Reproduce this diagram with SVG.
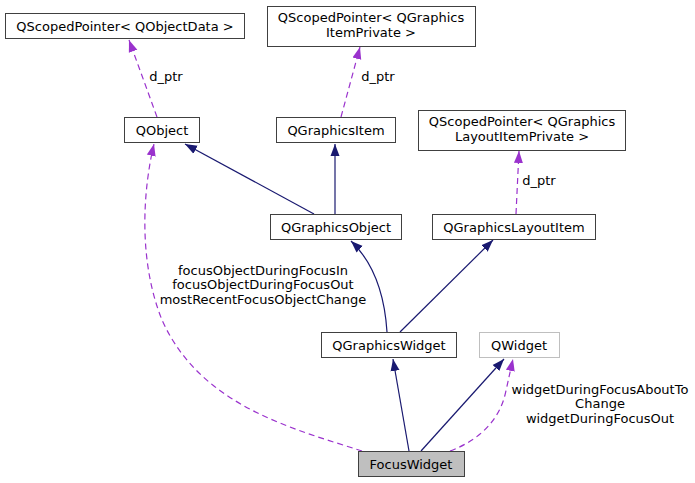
<svg xmlns="http://www.w3.org/2000/svg" width="695" height="483" viewBox="0 0 695 483">
<style>
.box rect{fill:#ffffff;stroke:#404040;stroke-width:1}
.gray rect{stroke:#bfbfbf}
.cur rect{fill:#bfbfbf}
text{font-family:"DejaVu Sans","Liberation Sans",sans-serif;font-size:13px;fill:#000;text-anchor:middle}
.inh{fill:none;stroke:#191970;stroke-width:1.2}
.use{fill:none;stroke:#9a32cd;stroke-width:1.2;stroke-dasharray:6,4}
</style>
<defs>
<marker id="an" markerUnits="userSpaceOnUse" markerWidth="12" markerHeight="10" viewBox="0 0 12 10" refX="12" refY="5" orient="auto"><path d="M0,0.5 L12,5 L0,9.5 z" fill="#191970"/></marker>
<marker id="ap" markerUnits="userSpaceOnUse" markerWidth="12" markerHeight="10" viewBox="0 0 12 10" refX="12" refY="5" orient="auto"><path d="M0,0.5 L12,5 L0,9.5 z" fill="#9a32cd"/></marker>
</defs>
<g id="connectors">
<path class="use" d="M157,117 L129,40" marker-end="url(#ap)"/>
<path class="use" d="M341,117 L360,47" marker-end="url(#ap)"/>
<path class="use" d="M516,214 L519,151" marker-end="url(#ap)"/>
<path class="inh" d="M314,214 L185,144" marker-end="url(#an)"/>
<path class="inh" d="M335,214 L335,144" marker-end="url(#an)"/>
<path class="inh" d="M387,332 C385,300 377,266 351,241" marker-end="url(#an)"/>
<path class="inh" d="M400,332 L493,240" marker-end="url(#an)"/>
<path class="inh" d="M409,451 L393,359" marker-end="url(#an)"/>
<path class="inh" d="M421,451 L504,359" marker-end="url(#an)"/>
<path class="use" d="M450,451 C485,438 500,415 505,395 C508,382 510,372 513,359" marker-end="url(#ap)"/>
<path class="use" d="M362,451 C290,428 200,405 162,320 C138,260 143,190 154,144" marker-end="url(#ap)"/>
<text x="166" y="81">d_ptr</text>
<text x="378" y="81">d_ptr</text>
<text x="539" y="185">d_ptr</text>
<text x="263" y="275">focusObjectDuringFocusIn</text>
<text x="263" y="289">focusObjectDuringFocusOut</text>
<text x="263" y="304">mostRecentFocusObjectChange</text>
<text x="600" y="394">widgetDuringFocusAboutTo</text>
<text x="600" y="408">Change</text>
<text x="600" y="423">widgetDuringFocusOut</text>
</g>
<g id="n_qobjectdata" class="box"><rect x="5.5" y="13.5" width="239" height="25"/><text x="125" y="30.5">QScopedPointer&lt; QObjectData &gt;</text></g>
<g id="n_itemprivate" class="box"><rect x="267.5" y="6.5" width="208" height="40"/><text x="371" y="22">QScopedPointer&lt; QGraphics</text><text x="371" y="37">ItemPrivate &gt;</text></g>
<g id="n_qobject" class="box"><rect x="124.5" y="117.5" width="75" height="25"/><text x="162" y="134.5">QObject</text></g>
<g id="n_qgraphicsitem" class="box"><rect x="276.5" y="117.5" width="119" height="25"/><text x="336" y="134.5">QGraphicsItem</text></g>
<g id="n_layoutprivate" class="box"><rect x="418.5" y="110.5" width="207" height="40"/><text x="522" y="126">QScopedPointer&lt; QGraphics</text><text x="522" y="141">LayoutItemPrivate &gt;</text></g>
<g id="n_qgraphicsobject" class="box"><rect x="270.5" y="214.5" width="131" height="25"/><text x="336" y="231.5">QGraphicsObject</text></g>
<g id="n_qgraphicslayoutitem" class="box"><rect x="432.5" y="214.5" width="163" height="25"/><text x="514" y="231.5">QGraphicsLayoutItem</text></g>
<g id="n_qgraphicswidget" class="box"><rect x="321.5" y="332.5" width="135" height="25"/><text x="389" y="349.5">QGraphicsWidget</text></g>
<g id="n_qwidget" class="box gray"><rect x="479.5" y="332.5" width="80" height="25"/><text x="519" y="349.5">QWidget</text></g>
<g id="n_focuswidget" class="box cur"><rect x="358.5" y="451.5" width="106" height="25"/><text x="411" y="468.5">FocusWidget</text></g>
</svg>
